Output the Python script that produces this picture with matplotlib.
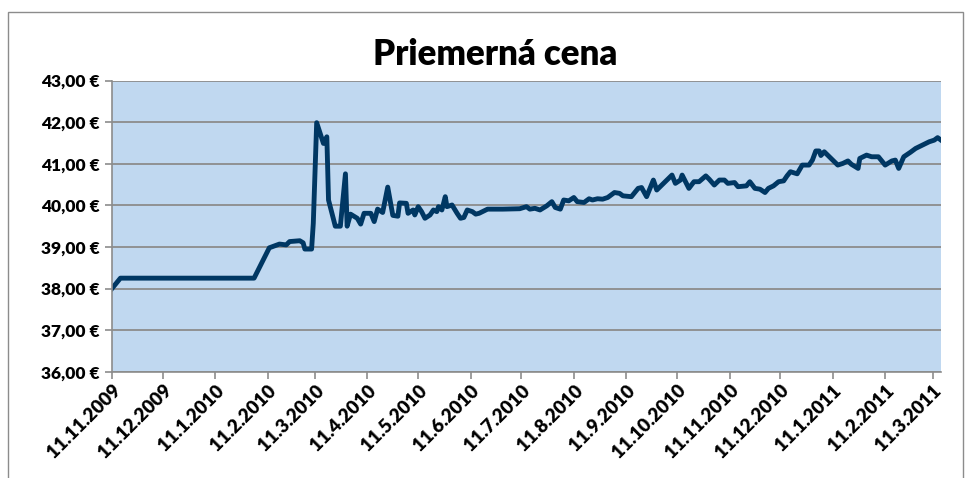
import matplotlib
matplotlib.use("Agg")
import matplotlib.pyplot as plt
from matplotlib.patches import Rectangle
import pandas as pd

# data: days after 11.11.2009 and average price in EUR
start = "2009-11-11"
days = [0, 5, 84, 93, 99, 103, 105, 111, 113, 114, 118, 119, 121, 125, 127, 128,
        132, 135, 138, 139, 141, 145, 147, 149, 153, 155, 157, 160, 163, 166, 169,
        170, 174, 175, 178, 179, 181, 183, 185, 188, 190, 192, 193, 195, 197, 198,
        201, 204, 206, 208, 210, 213, 215, 217, 220, 222, 231, 241, 245, 247, 250,
        253, 257, 260, 262, 265, 267, 270, 273, 275, 279, 282, 284, 287, 290, 293,
        297, 300, 302, 307, 311, 313, 316, 320, 322, 324, 331, 333, 336, 337, 339,
        341, 344, 347, 351, 353, 356, 359, 362, 364, 368, 370, 375, 377, 380, 383,
        386, 388, 391, 394, 397, 399, 401, 405, 408, 412, 414, 416, 418, 419, 421,
        425, 429, 432, 435, 437, 441, 442, 446, 449, 453, 457, 461, 463, 465, 468,
        472, 475, 479, 483, 486, 488, 490]
price = [38.00, 38.25, 38.25, 38.98, 39.07, 39.05, 39.13, 39.15, 39.10, 38.95, 38.95,
         39.57, 41.99, 41.49, 41.65, 40.13, 39.50, 39.50, 40.76, 39.50, 39.79, 39.69,
         39.55, 39.81, 39.81, 39.61, 39.91, 39.83, 40.44, 39.76, 39.74, 40.06, 40.05,
         39.81, 39.89, 39.77, 39.97, 39.85, 39.69, 39.77, 39.89, 39.85, 39.97, 39.89,
         40.21, 39.97, 40.01, 39.81, 39.69, 39.71, 39.89, 39.85, 39.79, 39.81, 39.87,
         39.91, 39.91, 39.92, 39.97, 39.91, 39.93, 39.89, 39.99, 40.09, 39.95, 39.91,
         40.13, 40.11, 40.19, 40.09, 40.07, 40.16, 40.13, 40.16, 40.15, 40.19, 40.31,
         40.29, 40.23, 40.21, 40.41, 40.43, 40.21, 40.61, 40.37, 40.45, 40.73, 40.53,
         40.61, 40.73, 40.57, 40.41, 40.57, 40.57, 40.71, 40.63, 40.49, 40.61, 40.61,
         40.53, 40.55, 40.45, 40.47, 40.57, 40.41, 40.39, 40.31, 40.41, 40.47, 40.57,
         40.59, 40.71, 40.81, 40.76, 40.97, 40.97, 41.09, 41.31, 41.31, 41.20, 41.29,
         41.13, 40.97, 41.01, 41.07, 40.99, 40.89, 41.13, 41.21, 41.17, 41.17, 40.97,
         41.07, 41.09, 40.89, 41.17, 41.28, 41.37, 41.45, 41.53, 41.57, 41.63, 41.57]
tick_dates = ["2009-11-11", "2009-12-11", "2010-01-11", "2010-02-11", "2010-03-11",
              "2010-04-11", "2010-05-11", "2010-06-11", "2010-07-11", "2010-08-11",
              "2010-09-11", "2010-10-11", "2010-11-11", "2010-12-11", "2011-01-11",
              "2011-02-11", "2011-03-11"]
y_ticks = [36, 37, 38, 39, 40, 41, 42, 43]

dates = pd.Timestamp(start) + pd.to_timedelta(days, unit="D")
ticks = pd.to_datetime(tick_dates)

plt.rcParams['font.family'] = ['Lato', 'DejaVu Sans']

fig = plt.figure(figsize=(9.71, 4.78), dpi=100)
ax = fig.add_axes([0.1153, 0.2224, 0.8538, 0.6088])
ax.set_facecolor('#C0D8F0')

ax.plot(dates, price, color='#003763', lw=3.5, solid_joinstyle='round')

ax.set_ylim(36, 43)
ax.set_yticks(y_ticks)
ax.set_yticklabels([f"{v:.2f}".replace('.', ',') + " €" for v in y_ticks],
                   fontweight='heavy', fontsize=12.5)
ax.set_xlim(pd.Timestamp(start), pd.Timestamp(start) + pd.Timedelta(days=490))
ax.set_xticks(ticks)
ax.set_xticklabels([f"{d.day}.{d.month}.{d.year}" for d in ticks],
                   fontweight='heavy', fontsize=13.5, rotation=45,
                   ha='right', rotation_mode='anchor')

ax.grid(axis='y', color='#8C8C8C', lw=1.3)
ax.set_axisbelow(True)
for s in ['top', 'right']:
    ax.spines[s].set_visible(False)
for s in ['left', 'bottom']:
    ax.spines[s].set_color('#8C8C8C')
    ax.spines[s].set_linewidth(1.2)
ax.tick_params(axis='both', direction='out', length=5, color='#8C8C8C', width=1.2)
ax.tick_params(axis='x', pad=2)
ax.tick_params(axis='y', pad=4)

fig.text(0.51, 0.885, "Priemerná cena", ha='center', va='center',
         fontsize=25, fontweight='heavy')

fig.patches.append(Rectangle((8 / 971, -0.05), 955 / 971, 0.05 + 1 - 12 / 478,
                             transform=fig.transFigure, fill=False,
                             edgecolor='#8C8C8C', lw=1))

fig.savefig('out.png', dpi=100)
